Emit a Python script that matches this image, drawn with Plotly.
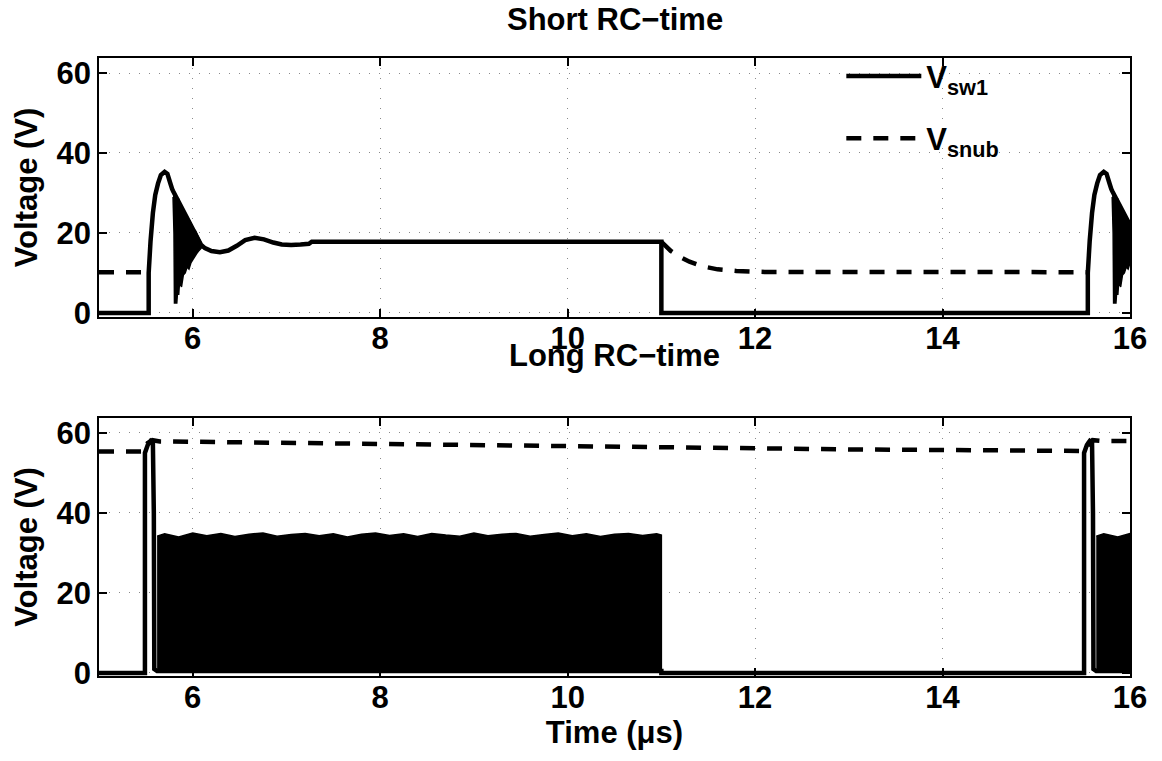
import plotly.graph_objects as go

# ---------------- data (time in µs, voltage in V) ----------------
period = 10.02          # switching period: the turn-on event repeats at ~15.5 µs

# Short RC-time: switch-node voltage for one turn-on event (t = 5.53 ... 11.0)
short_sw1_t = [5.53, 5.53, 5.55, 5.575, 5.60, 5.63, 5.66, 5.70, 5.73, 5.76, 5.78,
               5.79, 6.09, 6.10, 6.13, 6.20, 6.29, 6.38, 6.47, 6.56, 6.66, 6.76,
               6.86, 6.95, 7.05, 7.15, 7.24, 7.27, 11.00, 11.00]
short_sw1_v = [0.0, 10.0, 18.0, 25.0, 29.5, 32.4, 34.5, 35.3, 34.8, 32.5, 31.0,
               30.5, 17.0, 16.8, 16.2, 15.5, 15.2, 15.6, 16.8, 18.2, 18.8, 18.4,
               17.6, 17.1, 17.0, 17.1, 17.3, 17.8, 17.8, 0.0]

# Short RC-time: envelope of the fast ringing right after the peak
short_ring_hi_t = [5.79, 5.81, 5.83, 5.85, 5.87, 5.89, 5.91, 5.93, 5.95, 5.97, 5.99,
                   6.01, 6.03, 6.05, 6.07, 6.09]
short_ring_hi = [30.5, 29.5, 28.8, 28.5, 27.0, 26.0, 25.0, 24.0, 23.3, 23.0, 22.0,
                 21.0, 20.5, 19.5, 18.5, 17.5]
short_ring_lo_t = [5.79, 5.80, 5.805, 5.83, 5.84, 5.85, 5.86, 5.88, 5.90, 5.92, 5.94,
                   5.96, 5.98, 6.00, 6.02, 6.04, 6.06, 6.09]
short_ring_lo = [29.0, 20.0, 2.5, 2.5, 6.0, 4.5, 8.0, 6.5, 9.5, 10.0, 11.5,
                 11.0, 12.5, 13.3, 14.0, 14.8, 15.4, 16.2]

# Short RC-time: snubber capacitor voltage (gap while it follows the switch node)
short_snub_t = [5.00, 5.53, None, 11.00, 11.10, 11.20, 11.30, 11.45, 11.60, 11.80,
                12.10, 15.53]
short_snub_v = [10.2, 10.2, None, 17.8, 15.5, 14.0, 12.8, 11.6, 10.9, 10.5,
                10.25, 10.2]

# Long RC-time: switch-node voltage, turn-on spike then high-frequency ringing
long_sw1_t = [5.49, 5.49, 5.52, 5.55, 5.575, 5.585, 5.59, 5.62, 11.00, 11.00]
long_sw1_v = [0.0, 55.0, 57.0, 58.0, 57.5, 40.0, 1.0, 0.5, 0.5, 0.0]

# Long RC-time: envelope of the ringing burst (upper / lower edge)
long_ring_t = [5.62, 5.70, 5.85, 6.00, 6.15, 6.30, 6.45, 6.60, 6.75, 6.90, 7.05, 7.20,
               7.35, 7.50, 7.65, 7.80, 7.95, 8.10, 8.25, 8.40, 8.55, 8.70, 8.85, 9.00,
               9.15, 9.30, 9.45, 9.60, 9.75, 9.90, 10.05, 10.20, 10.35, 10.50, 10.65,
               10.80, 10.95, 11.00]
long_ring_hi = [34.2, 34.8, 34.0, 35.0, 34.3, 34.9, 34.1, 34.7, 35.0, 34.2, 34.6, 34.9,
                34.3, 34.8, 34.0, 34.7, 35.0, 34.4, 34.8, 34.1, 34.9, 34.5, 34.2, 35.0,
                34.3, 34.7, 34.9, 34.2, 34.6, 35.0, 34.3, 34.8, 34.1, 34.7, 34.9,
                34.4, 34.8, 34.5]
long_ring_lo = [0.3] * len(long_ring_t)

# Long RC-time: snubber capacitor voltage
long_snub_t = [5.00, 5.49, 5.52, 5.57, 5.65, 6.00, 7.00, 8.00, 9.00, 10.00, 11.00,
               12.00, 13.00, 14.00, 15.00, 15.53, 15.56, 15.60, 15.70, 16.00]
long_snub_v = [55.4, 55.4, 57.5, 58.2, 57.9, 57.8, 57.6, 57.4, 56.9, 56.6, 56.4,
               56.0, 55.9, 55.75, 55.6, 55.5, 57.5, 58.2, 58.0, 58.0]

x_ticks = [6, 8, 10, 12, 14, 16]
y_ticks = [0, 20, 40, 60]


def two_events(t_list, v_list, start_v=0.0):
    """Waveform from t=5 with the event repeated one switching period later."""
    t = [5.0] + list(t_list) + [ti + period for ti in t_list]
    v = [start_v] + list(v_list) + list(v_list)
    return t, v


FONT = "Liberation Sans, Arial, Helvetica, sans-serif"
FS = 31
DASH = "15px,12px"
LW = 4.5

fig = go.Figure()


def add_ring(hi_t, hi_v, lo_t, lo_v, xa, ya):
    """Filled ringing band (closed polygon upper edge -> lower edge), both events."""
    for shift in (0.0, period):
        bx = [ti + shift for ti in hi_t] + [ti + shift for ti in lo_t[::-1]]
        by = list(hi_v) + list(lo_v[::-1])
        fig.add_trace(go.Scatter(x=bx, y=by, mode="lines", fill="toself",
                                 fillcolor="black", showlegend=False, hoverinfo="skip",
                                 line=dict(color="black", width=1.5, simplify=False),
                                 xaxis=xa, yaxis=ya))


# ---- top panel: short RC-time ----
add_ring(short_ring_hi_t, short_ring_hi, short_ring_lo_t, short_ring_lo, "x", "y")
t, v = two_events(short_sw1_t, short_sw1_v)
fig.add_trace(go.Scatter(x=t, y=v, mode="lines", name="V<sub>sw1</sub>",
                         legendgroup="sw1",
                         line=dict(color="black", width=LW, simplify=False),
                         xaxis="x", yaxis="y"))
fig.add_trace(go.Scatter(x=short_snub_t, y=short_snub_v, mode="lines",
                         name="V<sub>snub</sub>", legendgroup="snub",
                         connectgaps=False,
                         line=dict(color="black", width=LW, dash=DASH),
                         xaxis="x", yaxis="y"))

# ---- bottom panel: long RC-time ----
add_ring(long_ring_t, long_ring_hi, long_ring_t, long_ring_lo, "x2", "y2")
t, v = two_events(long_sw1_t, long_sw1_v)
fig.add_trace(go.Scatter(x=t, y=v, mode="lines", showlegend=False,
                         line=dict(color="black", width=LW, simplify=False),
                         xaxis="x2", yaxis="y2"))
fig.add_trace(go.Scatter(x=long_snub_t, y=long_snub_v, mode="lines", showlegend=False,
                         line=dict(color="black", width=LW, dash=DASH),
                         xaxis="x2", yaxis="y2"))

axis_common = dict(
    showline=True, linecolor="black", linewidth=1.5, mirror="ticks",
    ticks="inside", ticklen=8, tickwidth=1.5, tickcolor="black",
    showgrid=True, gridcolor="#8a8a8a", gridwidth=1, griddash="1px,9px",
    zeroline=False, tickfont=dict(size=FS, color="black", family=FONT, weight="bold"),
)

fig.update_layout(
    width=1162, height=761,
    margin=dict(l=99, r=32, t=58, b=85),
    paper_bgcolor="white", plot_bgcolor="white",
    font=dict(family=FONT, size=FS, color="black", weight="bold"),
    xaxis=dict(domain=[0, 1], range=[5, 16], tickvals=x_ticks, anchor="y",
               ticklabelstandoff=-7, **axis_common),
    yaxis=dict(domain=[0.581, 1], range=[-1, 63.75], tickvals=y_ticks, anchor="x",
               title=dict(text="Voltage (V)", standoff=10,
                          font=dict(size=FS, family=FONT, weight="bold")),
               **axis_common),
    xaxis2=dict(domain=[0, 1], range=[5, 16], tickvals=x_ticks, anchor="y2",
                ticklabelstandoff=-7,
                title=dict(text="Time (μs)", standoff=0,
                           font=dict(size=FS, family=FONT, weight="bold")),
                **axis_common),
    yaxis2=dict(domain=[0, 0.4175], range=[-0.75, 63.75], tickvals=y_ticks, anchor="x2",
                title=dict(text="Voltage (V)", standoff=10,
                           font=dict(size=FS, family=FONT, weight="bold")),
                **axis_common),
    legend=dict(x=0.72, y=1.014, xanchor="left", yanchor="top",
                bgcolor="rgba(0,0,0,0)", borderwidth=0, itemwidth=75,
                tracegroupgap=19,
                font=dict(size=FS, family=FONT, color="black", weight="bold")),
    showlegend=True,
    annotations=[
        dict(text="Short RC−time", x=0.5, y=1.063, xref="paper", yref="paper",
             showarrow=False, xanchor="center", yanchor="middle",
             font=dict(size=FS, family=FONT, weight="bold")),
        dict(text="Long RC−time", x=0.5, y=0.518, xref="paper", yref="paper",
             showarrow=False, xanchor="center", yanchor="middle",
             font=dict(size=FS, family=FONT, weight="bold")),
    ],
)

fig.write_html("out.html")
